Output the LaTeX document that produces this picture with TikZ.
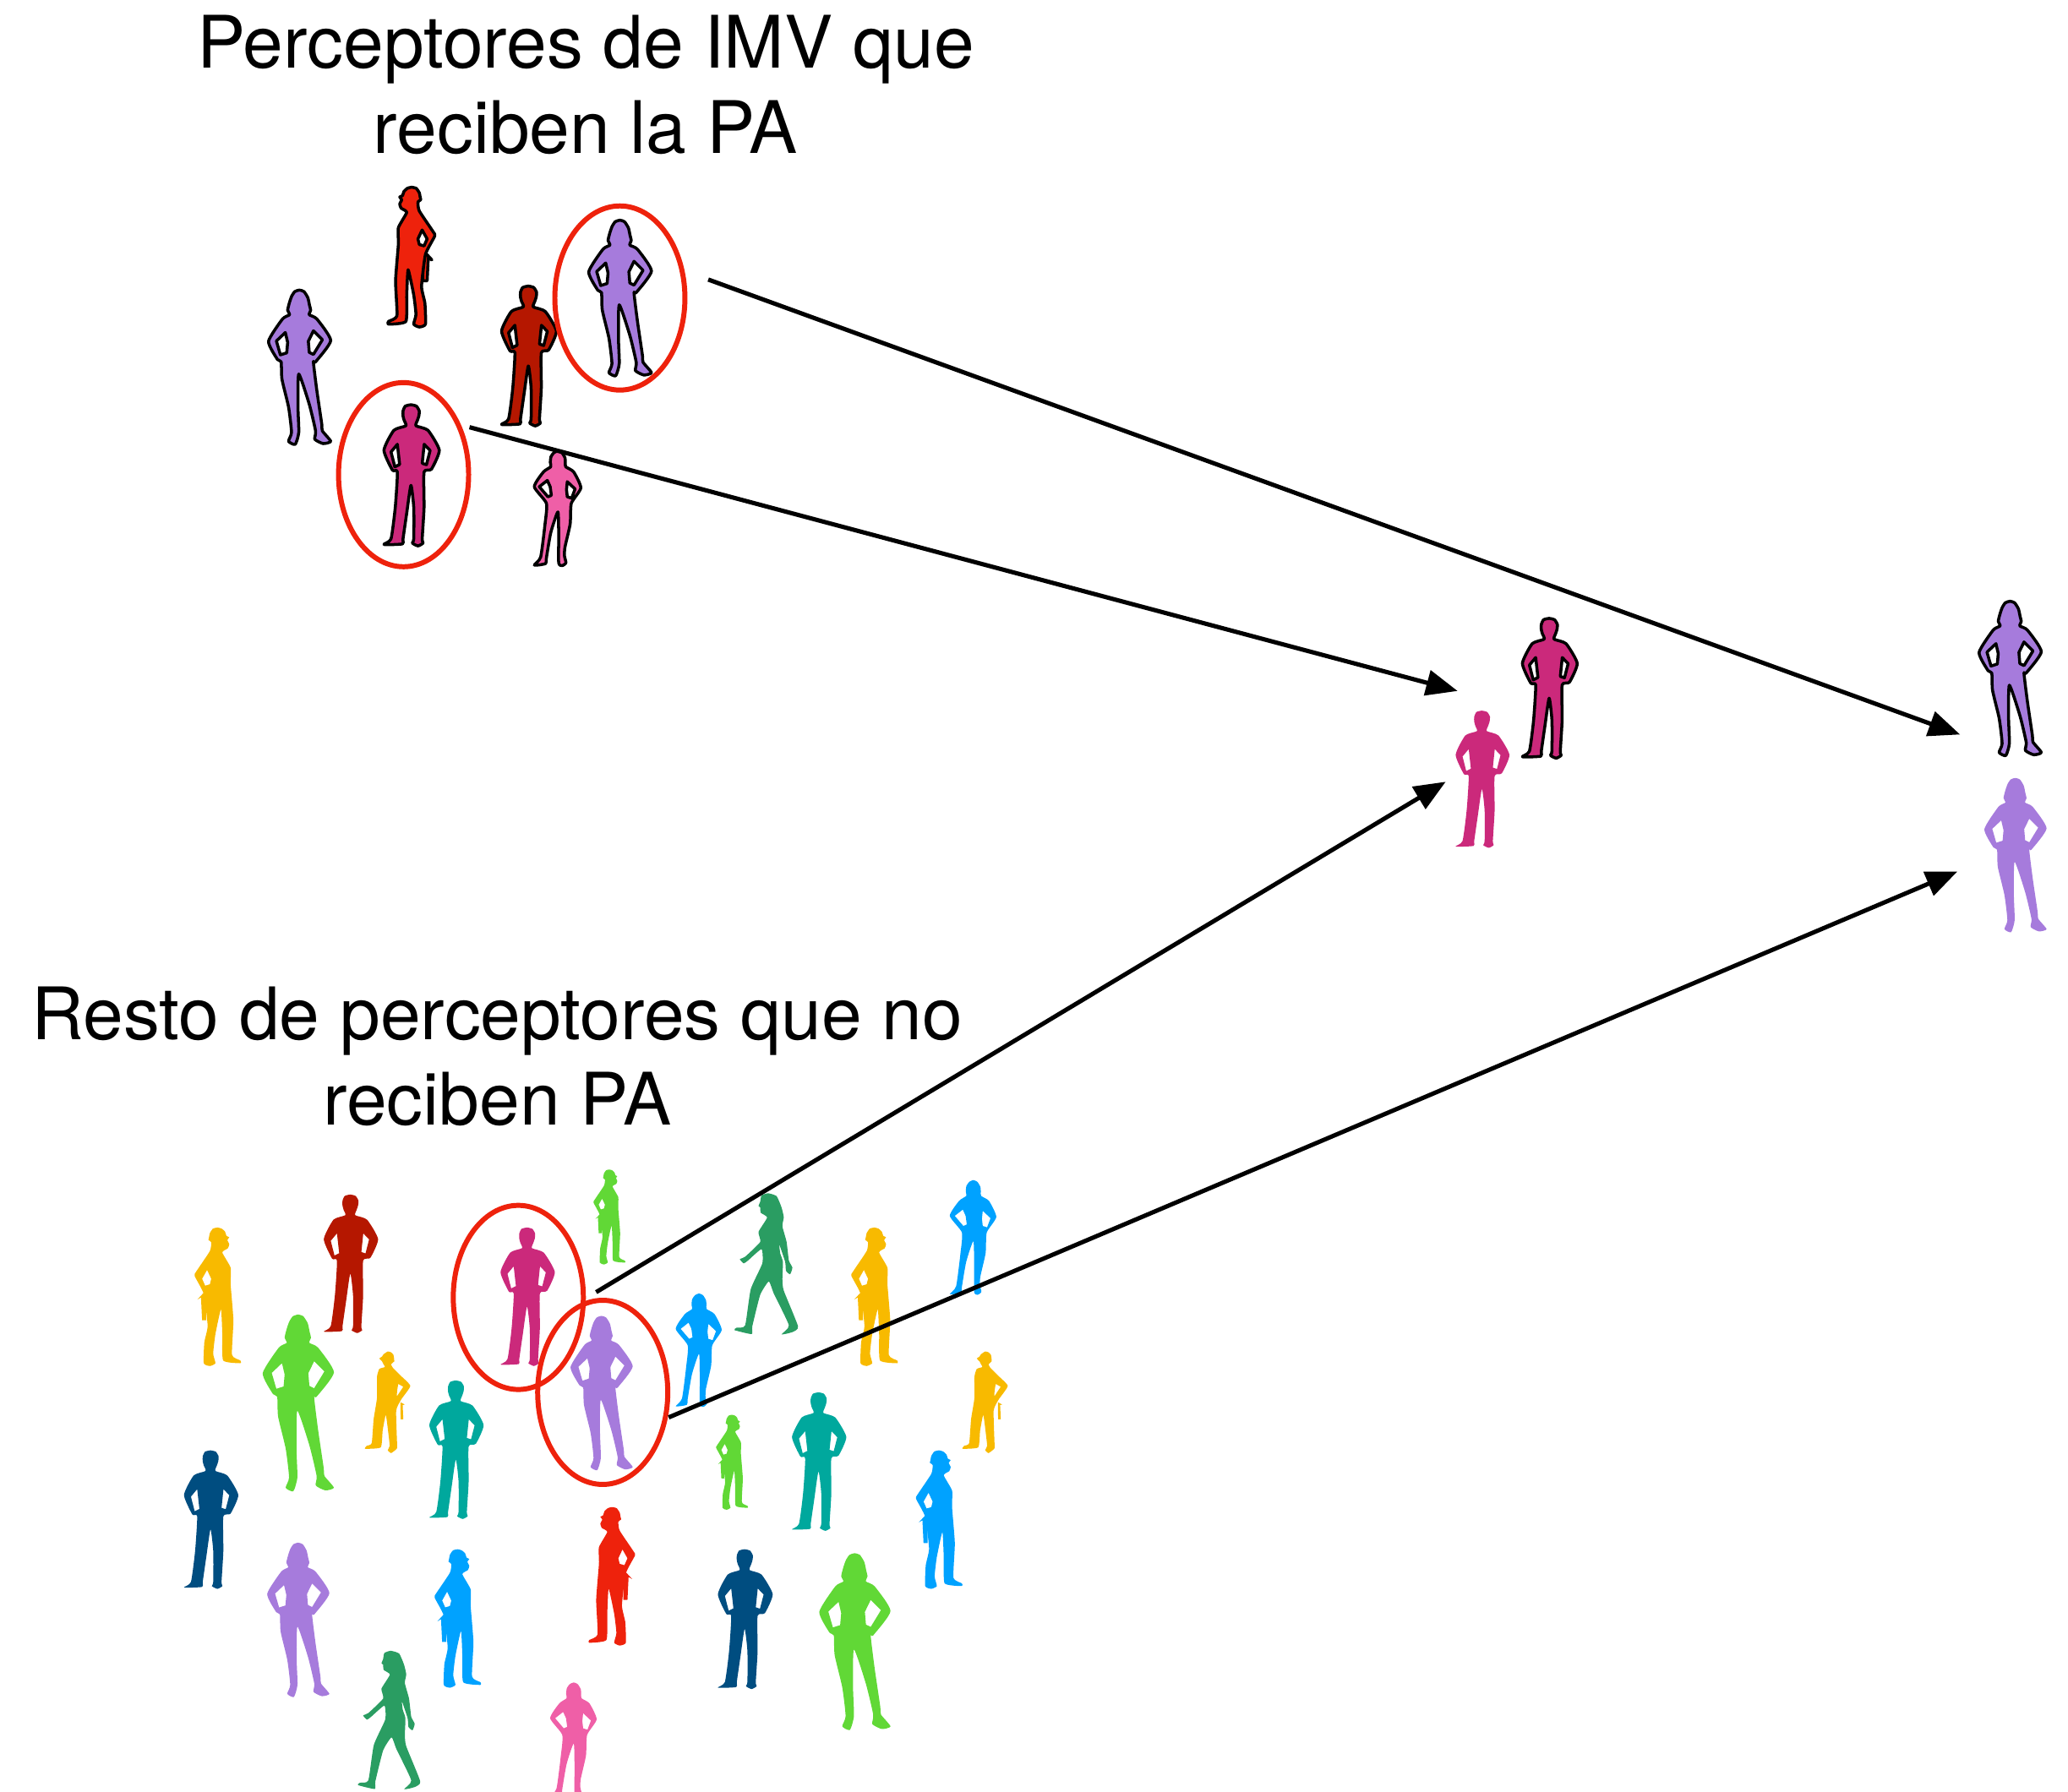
\documentclass[tikz,border=0pt]{standalone}
\usepackage{fontspec}
\setmainfont{TeX Gyre Heros}
\usepackage{tikz}
\usetikzlibrary{arrows,shapes.geometric}
\definecolor{ffamber}{HTML}{F8BA00}
\definecolor{ffbrick}{HTML}{B51700}
\definecolor{ffmagenta}{HTML}{CB297B}
\definecolor{ffpurple}{HTML}{A67BDC}
\definecolor{ffgreen}{HTML}{61D836}
\definecolor{ffteal}{HTML}{00A89D}
\definecolor{ffnavy}{HTML}{004D80}
\definecolor{ffblue}{HTML}{00A2FF}
\definecolor{ffred}{HTML}{EE220C}
\definecolor{ffsea}{HTML}{2A9D62}
\definecolor{ffpink}{HTML}{EF5FA7}
\tikzset{
  plainfig/.style={fill=#1,even odd rule},
  linefig/.style={fill=#1,even odd rule,draw=black,line width=1pt,line join=round},
  ring/.style={ellipse,draw=ffred,line width=1.7pt,minimum width=1.54cm,minimum height=2.18cm,inner sep=0pt},
  arrowline/.style={->,line width=1.45pt},
  caption/.style={align=center,font=\fontsize{24.4}{28.8}\selectfont,inner sep=0pt}
}
\newcommand{\manshape}[1]{\path[#1] plot[smooth cycle,tension=.35] coordinates {(-.4,0)(3.5,1)(5.5,4.4)(5.2,8)(4.2,11)(3.2,14.9)(11.7,18.1)(19.7,32.2)(14.1,45.7)(8.9,47.7)(8.9,72.8)(7.6,95)(8.2,98)(4.6,100)(.6,98)(1.6,95)(1.6,72.8)(-.4,57.1)(-3.4,76.9)(-6,95)(-6.4,98.6)(-19.5,99)(-14.5,95)(-11.5,72.8)(-10,47.7)(-13.5,46.3)(-19.5,32.2)(-12.5,18.1)(-4,14.9)(-5.2,11)(-6,8)(-6,4.4)(-4.4,1)}
  plot coordinates {(9,28)(13.2,32.4)(10.6,42.5)(7.6,41.5)} -- cycle
  plot coordinates {(-10,28)(-14.5,33.4)(-11.8,44)(-8.4,42.3)} -- cycle;}
\newcommand{\womanshape}[1]{\path[#1] plot[smooth cycle,tension=.35] coordinates {(0,0)(3,1)(5.5,5)(6.6,10)(7.3,13)(6.4,16)(11.3,18.7)(20.3,32.7)(10.5,46.5)(9.1,46.8)(11.3,65)(14.5,86.8)(14.9,91.3)(20.3,98)(15.4,99.5)(10,96.7)(10.5,91.3)(6.4,74)(-.4,54.4)(-.9,75.9)(-.4,92.2)(-2.7,100)(-7,98)(-5.1,92.2)(-7,75.9)(-11.3,57.7)(-11.8,46.5)(-14.2,45)(-20,33.2)(-10.9,18.7)(-6.4,16)(-7.6,13)(-6.4,8)(-5,4)(-3,1)}
  plot coordinates {(9.1,26.4)(14.9,32.2)(9.1,41.7)(6.4,40.4)(5.8,33.2)} -- cycle
  plot coordinates {(-9.1,27.5)(-14.9,33)(-12.3,42)(-8.2,40.7)(-7.6,33.9)} -- cycle;}
\newcommand{\slimshape}[1]{\path[#1] plot[smooth cycle,tension=.35] coordinates {(0,0)(3.5,1.5)(6.2,6)(6.5,10)(6.8,13.8)(13.7,18.2)(20,32.2)(11.7,45.7)(10.7,63.7)(6.2,83.7)(5.7,91.2)(7,97.5)(3.7,100)(.7,97.5)(.7,73.7)(0,53.2)(-6.2,71.2)(-10,93.2)(-10.7,98.2)(-20.5,99.5)(-15,92.5)(-11.2,63.7)(-10,45.7)(-20.5,31.2)(-12.5,18.2)(-6.2,13.8)(-6.6,10)(-6,5)(-3.5,1.5)}
  plot coordinates {(8.2,26.8)(15,33.2)(12,41.2)(8.2,40)(7.5,33.7)} -- cycle
  plot coordinates {(-9.2,25.7)(-16.2,31.2)(-8.7,40)(-5.7,38.7)(-6.7,31.2)} -- cycle;}
\newcommand{\workshape}[1]{\path[#1] (8.2,52)--(10,47)--(14.6,52)--(12,50.5)--(11.2,67)--(8.2,67)--cycle;
  \path[#1] plot[smooth cycle,tension=.3] coordinates {(0,0)(3.4,.8)(5.6,4)(6.2,7)(6.6,9)(4.6,10.6)(5.6,17)(15.6,32)(16.6,35)(10,48)(7.2,71)(9.6,83)(10,98)(5.6,100)(1.6,98)(3.2,91)(1.6,77)(-2.4,59)(-3.4,77)(-4,96)(-16.4,98)(-16.4,96)(-10.4,92)(-11.4,67)(-9.4,41)(-9.4,29)(-3.4,18)(-7.4,15)(-8.4,12)(-7,9)(-8.4,7)(-6.4,6)(-5.4,3)(-3,.8)}
  plot coordinates {(7.6,30.6)(11.2,37)(9,42)(5.6,41)(4.6,37)} -- cycle;}
\newcommand{\buildshape}[1]{\path[#1] (12.5,50)--(16.7,52.2)--(14.7,52.8)--(15.3,66.7)--(12.8,66.7)--(12.5,58.3)--cycle;
  \path[#1] plot[smooth cycle,tension=.3] coordinates {(0,0)(3.2,.8)(5.6,3.3)(6.4,9.7)(3.3,12.5)(5,16)(12.5,23.6)(22.2,33.9)(13.3,47.2)(8.3,58.3)(9.2,91.7)(8.9,95.8)(3.3,100)(0,97.2)(1.9,93)(.6,80.6)(-1.9,62.5)(-5,77.8)(-6.9,94.4)(-22.2,95.8)(-20.8,93)(-15.8,90.3)(-13.9,66.7)(-10.6,45.8)(-10.6,25)(-8.3,17.2)(-2.8,15.3)(-4.2,12.5)(-5.6,9.7)(-8.3,6.9)(-5.6,5)(-4.2,2.8)}
  plot coordinates {(10.3,31.9)(15.3,34.7)(8.9,44.4)(9.2,38.9)} -- cycle;}
\newcommand{\walkshape}[1]{\path[#1] plot[smooth cycle,tension=.3] coordinates {(1.2,0)(7.3,2)(10.8,10)(12.4,17)(11.4,23.3)(14.4,34.5)(16,47.6)(18.5,52.7)(16.9,57.4)(14,55)(13.4,48.7)(9.3,36.5)(9.9,42.6)(11.8,48.7)(11.4,60.9)(12.4,69)(22.5,94.3)(18.5,98.4)(10.8,100)(16,93.6)(5.3,71)(1.8,62.5)(-4.3,72)(-9.9,94.3)(-10.3,99.8)(-22.5,97)(-21,95.3)(-15,93.7)(-11,68)(-2.8,49.7)(-3.4,39.6)(-13,47.7)(-16,49.7)(-18.7,46.7)(-15,45)(-4.3,34.5)(-5.5,27.4)(.6,17.2)(-3.9,13.8)(-4.3,10)(-5.5,9)(-4.3,6)(-3.4,1.6)};}
\newcommand{\person}[6][]{\begin{scope}[shift={(#3,#4)},scale=#5/100,#1]#2{#6}\end{scope}}
\begin{document}
\begin{tikzpicture}[x=0.015606cm,y=-0.015606cm,>=triangle 45]
\useasboundingbox (0,0) rectangle (1568,1359);
\clip (0,0) rectangle (1568,1359);
\node[caption] (toplabel) at (444,64.5) {Perceptores de IMV que\\reciben la PA};
\node[caption] (restlabel) at (377,801) {Resto de perceptores que no\\reciben PA};
% grupo de arriba
\person\workshape{312}{142}{106}{linefig=ffred}
\person\womanshape{227}{220}{117}{linefig=ffpurple}
\person\manshape{401}{217}{106}{linefig=ffbrick}
\person\womanshape{470}{167}{118}{linefig=ffpurple}
\person\manshape{312}{307}{107}{linefig=ffmagenta}
\person\slimshape{423}{342}{87}{linefig=ffpink}
% derecha
\person\manshape{1175}{469}{106}{linefig=ffmagenta}
\person\womanshape{1524}{456}{117}{linefig=ffpurple}
\person\manshape{1124}{539}{104}{plainfig=ffmagenta}
\person\womanshape{1528}{590}{117}{plainfig=ffpurple}
% grupo de abajo
\person[xscale=-1]\workshape{165}{931}{105}{plainfig=ffamber}
\person\manshape{266}{906}{105}{plainfig=ffbrick}
\person\womanshape{226}{997}{134}{plainfig=ffgreen}
\person\buildshape{294}{1025}{77}{plainfig=ffamber}
\person\manshape{346}{1047}{105}{plainfig=ffteal}
\person\manshape{400}{931}{105}{plainfig=ffmagenta}
\person\womanshape{456}{998}{117}{plainfig=ffpurple}
\person[xscale=-1]\workshape{462}{887}{72}{plainfig=ffgreen}
\person\walkshape{581}{905}{107}{plainfig=ffsea}
\person\slimshape{530}{981}{86}{plainfig=ffblue}
\person[xscale=-1]\workshape{663}{931}{105}{plainfig=ffamber}
\person\slimshape{738}{895}{87}{plainfig=ffblue}
\person\buildshape{747}{1025}{77}{plainfig=ffamber}
\person[xscale=-1]\workshape{555}{1073}{72}{plainfig=ffgreen}
\person\manshape{621}{1056}{105}{plainfig=ffteal}
\person[xscale=-1]\workshape{712}{1100}{105}{plainfig=ffblue}
\person\manshape{160}{1100}{105}{plainfig=ffnavy}
\person\womanshape{226}{1170}{117}{plainfig=ffpurple}
\person[xscale=-1]\workshape{347}{1175}{105}{plainfig=ffblue}
\person\workshape{464}{1143}{105}{plainfig=ffred}
\person\manshape{565}{1175}{106}{plainfig=ffnavy}
\person\womanshape{648}{1178}{134}{plainfig=ffgreen}
\person\walkshape{295}{1252}{105}{plainfig=ffsea}
\person\slimshape{435}{1276}{87}{plainfig=ffpink}
% elipses
\node[ring] (ringviolet) at (470,226) {};
\node[ring] (ringcerise) at (306,360) {};
\node[ring] (ringrestc) at (393,984) {};
\node[ring] (ringrestv) at (457,1056) {};
% flechas
\coordinate (fromviolet) at (537,212);
\coordinate (tovioleta) at (1486,557);
\coordinate (fromcerise) at (356,324);
\coordinate (tocerisea) at (1105,524);
\coordinate (fromrestc) at (452,980);
\coordinate (toceriseb) at (1096,593);
\coordinate (fromrestv) at (507,1075);
\coordinate (tovioletb) at (1484,661);
\draw[arrowline] (fromviolet) -- (tovioleta);
\draw[arrowline] (fromcerise) -- (tocerisea);
\draw[arrowline] (fromrestc) -- (toceriseb);
\draw[arrowline] (fromrestv) -- (tovioletb);
\end{tikzpicture}
\end{document}
